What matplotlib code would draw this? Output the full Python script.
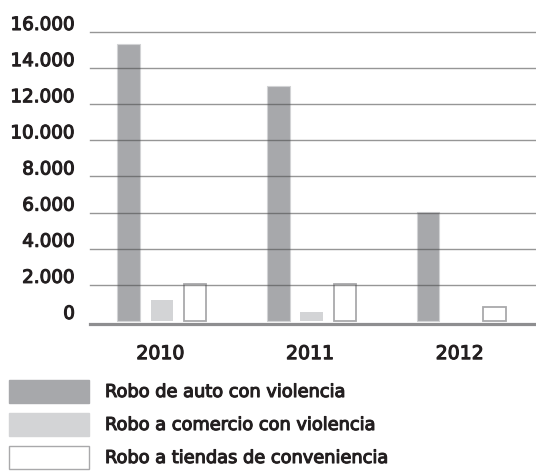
import matplotlib
matplotlib.use("Agg")
import matplotlib.pyplot as plt
from matplotlib.patches import Rectangle
import matplotlib.patheffects as pe
import numpy as np

years = ["2010", "2011", "2012"]
auto = [15350, 13000, 6050]
comercio = [1150, 500, 0]
tiendas = [2050, 2050, 800]
series_names = ["Robo de auto con violencia",
                "Robo a comercio con violencia",
                "Robo a tiendas de conveniencia"]
yticks = [0, 2000, 4000, 6000, 8000, 10000, 12000, 14000, 16000]
ytick_labels = ["0", "2.000", "4.000", "6.000", "8.000", "10.000", "12.000", "14.000", "16.000"]

W, H = 536, 471
fig = plt.figure(figsize=(W / 100, H / 100), dpi=100)
plt.rcParams['font.family'] = ['DejaVu Sans']

ymin, ymax = -200, 16100
ax_top_px, ax_bot_px = 30.2, 324.6
ax = fig.add_axes([90 / W, (H - ax_bot_px) / H, 1 - 90 / W, (ax_bot_px - ax_top_px) / H])
ax.set_xlim(-0.48, 2.5)
ax.set_ylim(ymin, ymax)
ax.axis('off')

c_auto = '#a7a8ab'
c_com = '#d3d4d6'
c_edge = '#a9a9ab'
txt_c = '#231f20'
x = np.arange(len(years))
bw = 0.15
off = 0.222
ax.bar(x - off, auto, bw, color=c_auto, edgecolor='#d2d3d5', linewidth=0.8, zorder=2)
ax.bar(x, comercio, bw, color=c_com, linewidth=0, zorder=2)
ax.bar(x + off, tiendas, bw, color='white', edgecolor=c_edge, linewidth=1.3, zorder=2)

for t in yticks[1:]:
    ax.axhline(t, color='#4b4b4b', alpha=0.58, linewidth=1.0, zorder=3, clip_on=False)
ax.axhline(-150, color='#8e8e90', linewidth=2.3, zorder=3, clip_on=False)

thick = [pe.withStroke(linewidth=0.8, foreground=txt_c)]
fs = 13.2
for t, lab in zip(yticks, ytick_labels):
    ax.annotate(lab, xy=(0, t), xycoords=('axes fraction', 'data'),
                xytext=(-15, 7), textcoords='offset pixels',
                ha='right', va='center', fontsize=fs, color=txt_c, path_effects=thick)

for xi, lab in zip(x, years):
    ax.annotate(lab, xy=(xi - 0.01, ymin), xycoords='data',
                xytext=(0, -29), textcoords='offset pixels',
                ha='center', va='center', fontsize=fs + 0.4, color=txt_c, path_effects=thick)

# legend
fills = [c_auto, c_com, 'white']
edges = [c_auto, c_com, c_edge]
tops = [380, 413, 446]
for f, e, top, name in zip(fills, edges, tops, series_names):
    fig.patches.append(Rectangle((9 / W, (H - top - 23) / H), 80 / W, 23 / H,
                                 facecolor=f, edgecolor=e, linewidth=1.0,
                                 transform=fig.transFigure, figure=fig))
    fig.text(105 / W, (H - top - 12) / H, name, ha='left', va='center',
             fontsize=12.8, color=txt_c, path_effects=thick)

fig.savefig('out.png', dpi=100)
